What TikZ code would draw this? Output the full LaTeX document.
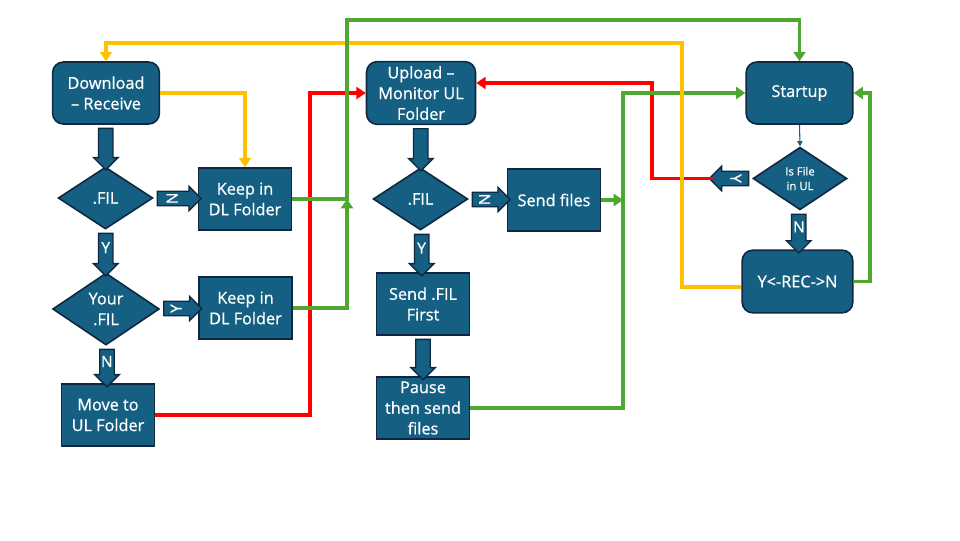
\documentclass[tikz,border=0pt]{standalone}
\usepackage{fontspec}
\setmainfont{Open Sans}[FakeBold=0.8]
\usetikzlibrary{arrows.meta,calc,shapes.geometric,shapes.arrows}
\definecolor{boxfill}{HTML}{156082}
\definecolor{boxline}{HTML}{0E2841}
\definecolor{lgreen}{HTML}{4EA72E}
\definecolor{lyellow}{HTML}{FFC000}
\definecolor{lred}{HTML}{FF0000}

% block arrow: from, to, angle, label
\newcommand{\bigarr}[4]{%
  \path let \p1=($(#2)-(#1)$), \n1={veclen(\x1,\y1)} in
    node[barr, minimum height=\n1, rotate=#3] at ($(#1)!.5!(#2)$) {}
    node[blabel, rotate=#3+90] at ($(#1)!.42!(#2)$) {#4};}

\begin{document}
\begin{tikzpicture}[x=0.75pt, y=-0.75pt, line width=2.8pt, >={Triangle[width=9pt,length=7pt]},
  box/.style={draw=boxline, line width=1.2pt, fill=boxfill, text=white, align=center, minimum width=70pt, minimum height=46.5pt, inner sep=0.5pt, font=\fontsize{12.2}{15.5}\selectfont},
  rbox/.style={box, rounded corners=8pt, minimum width=80pt},
  dec/.style={box, diamond, aspect=1.5, minimum width=71pt, inner sep=0pt},
  barr/.style={single arrow, draw=boxline, line width=1pt, fill=boxfill, minimum width=17.3pt, single arrow head extend=3.75pt, inner xsep=0pt, inner ysep=4.9pt, outer sep=0pt},
  blabel/.style={text=white, inner sep=0pt, font=\fontsize{11.5}{11.5}\selectfont}]
\useasboundingbox (0,0) rectangle (960,540);

\node[rbox] (dl) at (106,93) {Download\\– Receive};
\node[dec, minimum height=46.5pt] (fil1) at (105.5,198) {.FIL};
\node[box] (keep1) at (245,199) {Keep in\\DL Folder};
\node[dec, minimum width=80pt, minimum height=54pt] (yfil) at (106,309) {Your\\.FIL};
\node[box] (keep2) at (245.5,308) {Keep in\\DL Folder};
\node[box] (move) at (108,415) {Move to\\UL Folder};

\node[rbox, minimum width=81.75pt, minimum height=47pt] (ul) at (421,93) {Upload –\\Monitor UL\\Folder};
\node[dec] (fil2) at (420.5,199) {.FIL};
\node[box] (sendf) at (554,200) {Send files};
\node[box] (sfil) at (423,304) {Send .FIL\\First};
\node[box] (pause) at (423,408) {Pause\\then send\\files};

\node[rbox] (start) at (799.5,93) {Startup};
\node[dec, minimum width=70.5pt, minimum height=47pt, font=\fontsize{8.5}{11}\selectfont] (isul) at (800,178.5) {Is File\\in UL};
\node[rbox, minimum width=83pt, minimum height=47pt] (rec) at (797.5,281.5) {Y<-REC->N};
\coordinate (isy) at (713,178.5);
\coordinate (gj) at (347,199);
\coordinate (gj2) at (623,200);

\bigarr{dl.south}{fil1.north}{-90}{}
\bigarr{fil1.east}{keep1.west}{0}{N}
\bigarr{fil1.south}{yfil.north}{-90}{Y}
\bigarr{yfil.east}{keep2.west}{0}{Y}
\bigarr{yfil.south}{move.north}{-90}{N}
\bigarr{ul.south}{fil2.north}{-90}{}
\bigarr{fil2.east}{sendf.west}{0}{N}
\bigarr{fil2.south}{sfil.north}{-90}{Y}
\bigarr{sfil.south}{pause.north}{-90}{}
\bigarr{isul.west}{isy}{180}{Y}
\bigarr{isul.south}{rec.north}{-90}{N}
\draw[boxfill, line width=0.8pt, -{Triangle[width=4pt,length=4pt]}] (start.south) -- (isul.north);

\draw[lred, ->] (move.east) -| (310,93) -- (ul.west);
\draw[lred, ->] (isy) -| (652,83) -- ([yshift=7.5pt]ul.east);
\draw[lgreen, ->] (sendf.east) -- (gj2);
\draw[lgreen, ->] (pause.east) -| (623,93) -- (start.west);
\draw[lgreen, ->] (rec.east) -| (870,93) -- (start.east);
\draw[lyellow, ->] (dl.east) -| (keep1.north);
\draw[lyellow, ->] ([yshift=-4pt]rec.west) -| (682,43) -| (dl.north);
\draw[lgreen, ->] (keep1.east) -| (347,20) -| (start.north);
\draw[lgreen, ->] (keep2.east) -| (gj);
\end{tikzpicture}
\end{document}
